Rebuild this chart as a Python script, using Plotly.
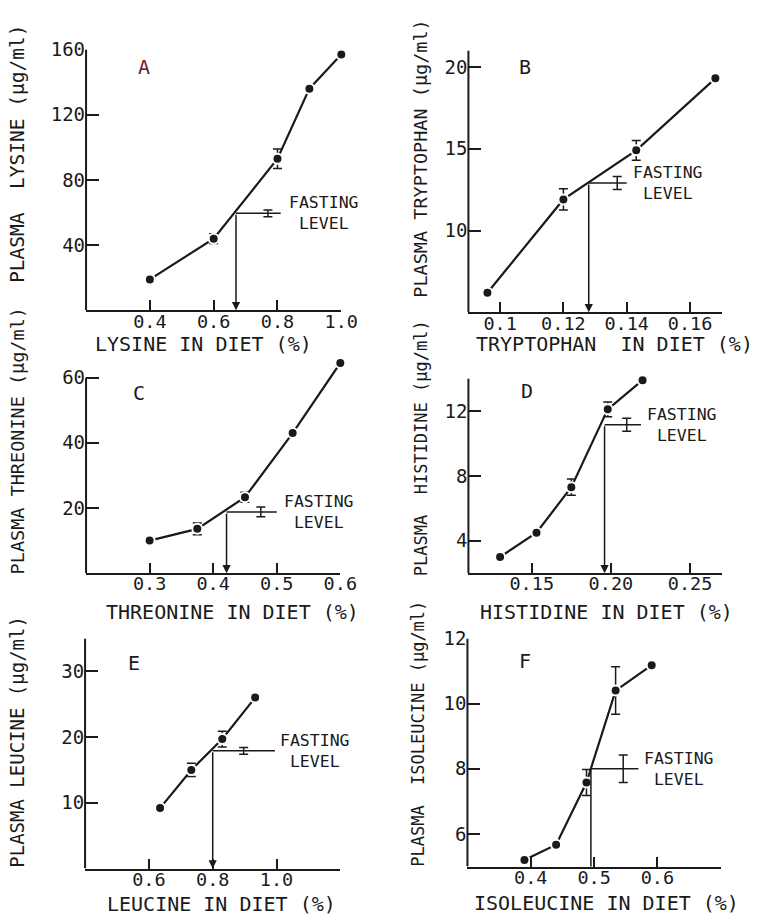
import plotly.graph_objects as go

W, H = 770, 918
INK = "#1a1a1a"
FONT = "DejaVu Sans Mono"

# ---------------- data ----------------
# A: lysine
lys_x = [0.4, 0.6, 0.8, 0.9, 1.0]
lys_y = [19, 44, 93, 136, 157]
lys_err = [None, 3, 6, None, None]
lys_fast = dict(x=0.67, y=59.5, end=0.81, errx=0.77, err=2)
lys_xticks = [0.4, 0.6, 0.8, 1.0]
lys_xlabels = ["0.4", "0.6", "0.8", "1.0"]
lys_yticks = [40, 80, 120, 160]

# B: tryptophan
trp_x = [0.096, 0.12, 0.143, 0.168]
trp_y = [6.2, 11.9, 14.9, 19.3]
trp_err = [None, 0.65, 0.6, None]
trp_fast = dict(x=0.128, y=12.9, end=0.14, errx=0.137, err=0.4)
trp_xticks = [0.10, 0.12, 0.14, 0.16]
trp_xlabels = ["0.1", "0.12", "0.14", "0.16"]
trp_yticks = [10, 15, 20]

# C: threonine
thr_x = [0.3, 0.375, 0.45, 0.525, 0.6]
thr_y = [10, 13.6, 23.3, 43, 64.5]
thr_err = [None, 1.8, 1.5, None, None]
thr_fast = dict(x=0.421, y=18.8, end=0.5, errx=0.475, err=1.5)
thr_xticks = [0.3, 0.4, 0.5, 0.6]
thr_xlabels = ["0.3", "0.4", "0.5", "0.6"]
thr_yticks = [20, 40, 60]

# D: histidine
his_x = [0.13, 0.153, 0.175, 0.198, 0.22]
his_y = [3.0, 4.5, 7.3, 12.1, 13.9]
his_err = [None, None, 0.5, 0.45, None]
his_fast = dict(x=0.196, y=11.15, end=0.219, errx=0.21, err=0.4)
his_xticks = [0.15, 0.20, 0.25]
his_xlabels = ["0.15", "0.20", "0.25"]
his_yticks = [4, 8, 12]

# E: leucine
leu_x = [0.635, 0.733, 0.83, 0.933]
leu_y = [9.2, 15, 19.7, 26]
leu_err = [None, 1.0, 1.2, None]
leu_fast = dict(x=0.8, y=17.9, end=0.995, errx=0.897, err=0.5)
leu_xticks = [0.6, 0.8, 1.0]
leu_xlabels = ["0.6", "0.8", "1.0"]
leu_yticks = [10, 20, 30]

# F: isoleucine
ile_x = [0.39, 0.44, 0.488, 0.534, 0.591]
ile_y = [5.2, 5.67, 7.58, 10.4, 11.18]
ile_err = [None, None, 0.4, 0.73, None]
ile_fast = dict(x=0.495, y=8.0, end=0.57, errx=0.546, err=0.42)
ile_xticks = [0.4, 0.5, 0.6]
ile_xlabels = ["0.4", "0.5", "0.6"]
ile_yticks = [6, 8, 10, 12]

NB = "\u00a0"
panels = [
    dict(tag="A", x=lys_x, y=lys_y, err=lys_err, fast=lys_fast, xt=lys_xticks, xl=lys_xlabels, yt=lys_yticks,
         xr=[0.2, 1.0], yr=[0, 160], ytop=160, dom_x=(88, 349), dom_y=(39, 303),
         ytitle="PLASMA" + NB * 2 + "LYSINE (μg/ml)", ytpos=(18, 145), ysize=19.5,
         xtitle="LYSINE IN DIET (%)", xtpos=(208, 337),
         tagpos=(147, 57), tagcolor="#6a2020", fastpos=(0.945, 59.5), head=2),
    dict(tag="B", x=trp_x, y=trp_y, err=trp_err, fast=trp_fast, xt=trp_xticks, xl=trp_xlabels, yt=trp_yticks,
         xr=[0.09, 0.17], yr=[5, 21], ytop=21, dom_x=(479, 738), dom_y=(40, 305),
         ytitle="PLASMA TRYPTOPHAN (μg/ml)", ytpos=(430, 150), ysize=18.5,
         xtitle="TRYPTOPHAN" + NB * 2 + "IN DIET (%)", xtpos=(628, 337),
         tagpos=(537, 57), tagcolor=INK, fastpos=(0.153, 12.9), head=2),
    dict(tag="C", x=thr_x, y=thr_y, err=thr_err, fast=thr_fast, xt=thr_xticks, xl=thr_xlabels, yt=thr_yticks,
         xr=[0.2, 0.6], yr=[0, 67], ytop=60, dom_x=(88, 348), dom_y=(348, 569),
         ytitle="PLASMA THREONINE (μg/ml)", ytpos=(18, 435), ysize=18.5,
         xtitle="THREONINE IN DIET (%)", xtpos=(238, 608),
         tagpos=(142, 387), tagcolor=INK, fastpos=(0.566, 18.8), head=2),
    dict(tag="D", x=his_x, y=his_y, err=his_err, fast=his_fast, xt=his_xticks, xl=his_xlabels, yt=his_yticks,
         xr=[0.11, 0.27], yr=[2, 14], ytop=14, dom_x=(479, 738), dom_y=(372, 569),
         ytitle="PLASMA" + NB * 2 + "HISTIDINE (μg/ml)", ytpos=(430, 443), ysize=17,
         xtitle="HISTIDINE IN DIET (%)", xtpos=(620, 608),
         tagpos=(539, 385), tagcolor=INK, fastpos=(0.245, 11.15), head=2),
    dict(tag="E", x=leu_x, y=leu_y, err=leu_err, fast=leu_fast, xt=leu_xticks, xl=leu_xlabels, yt=leu_yticks,
         xr=[0.4, 1.2], yr=[0, 35], ytop=35, dom_x=(87, 348), dom_y=(635, 868),
         ytitle="PLASMA LEUCINE (μg/ml)", ytpos=(18, 740), ysize=19,
         xtitle="LEUCINE IN DIET (%)", xtpos=(226, 904),
         tagpos=(137, 660), tagcolor=INK, fastpos=(1.121, 17.9), head=2),
    dict(tag="F", x=ile_x, y=ile_y, err=ile_err, fast=ile_fast, xt=ile_xticks, xl=ile_xlabels, yt=ile_yticks,
         xr=[0.3, 0.7], yr=[5, 12], ytop=12, dom_x=(478, 737), dom_y=(635, 866),
         ytitle="PLASMA" + NB * 2 + "ISOLEUCINE (μg/ml)", ytpos=(428, 732), ysize=17,
         xtitle="ISOLEUCINE IN DIET (%)", xtpos=(620, 903),
         tagpos=(537, 658), tagcolor=INK, fastpos=(0.634, 8.0), head=0),
]


def px(x):
    return x / W


def py(y):
    return 1 - y / H


fig = go.Figure()
annotations = []
shapes = []
layout = {}

for i, p in enumerate(panels, 1):
    xa = "x" if i == 1 else f"x{i}"
    ya = "y" if i == 1 else f"y{i}"
    xkey = "xaxis" if i == 1 else f"xaxis{i}"
    ykey = "yaxis" if i == 1 else f"yaxis{i}"
    f = p["fast"]

    # main curve
    fig.add_trace(go.Scatter(
        x=p["x"], y=p["y"], xaxis=xa, yaxis=ya, mode="lines+markers",
        line=dict(color=INK, width=2.2),
        marker=dict(size=10, color=INK, line=dict(color="white", width=2)),
        error_y=dict(type="data", array=p["err"], visible=True, color=INK, thickness=1.5, width=4.5),
        cliponaxis=False, showlegend=False, hoverinfo="skip"))

    # fasting level horizontal line
    fig.add_trace(go.Scatter(
        x=[f["x"], f["end"]], y=[f["y"], f["y"]], xaxis=xa, yaxis=ya, mode="lines",
        line=dict(color=INK, width=1.5), cliponaxis=False, showlegend=False, hoverinfo="skip"))

    # fasting level error bar
    fig.add_trace(go.Scatter(
        x=[f["errx"]], y=[f["y"]], xaxis=xa, yaxis=ya, mode="markers",
        marker=dict(size=1, color="rgba(0,0,0,0)"),
        error_y=dict(type="data", array=[f["err"]], visible=True, color=INK, thickness=1.5, width=4.5),
        cliponaxis=False, showlegend=False, hoverinfo="skip"))

    # arrow down to diet axis
    annotations.append(dict(
        x=f["x"], y=p["yr"][0], ax=f["x"], ay=f["y"], xref=xa, yref=ya, axref=xa, ayref=ya,
        text="", showarrow=True, arrowhead=p["head"], arrowsize=1.1, arrowwidth=1.5,
        arrowcolor=INK, standoff=0, startstandoff=0))

    # fasting text
    annotations.append(dict(
        x=p["fastpos"][0], y=p["fastpos"][1], xref=xa, yref=ya, text="FASTING<br>LEVEL",
        showarrow=False, align="center", xanchor="center", yanchor="middle",
        font=dict(family=FONT, size=16.5, color=INK)))

    # panel tag
    annotations.append(dict(
        x=px(p["tagpos"][0]), y=py(p["tagpos"][1]), xref="paper", yref="paper", text=p["tag"],
        showarrow=False, xanchor="center", yanchor="middle",
        font=dict(family=FONT, size=20, color=p["tagcolor"])))

    # y title
    annotations.append(dict(
        x=px(p["ytpos"][0]), y=py(p["ytpos"][1]), xref="paper", yref="paper", text=p["ytitle"],
        showarrow=False, textangle=-90, xanchor="center", yanchor="middle",
        font=dict(family=FONT, size=p["ysize"], color=INK)))

    # x title
    annotations.append(dict(
        x=px(p["xtpos"][0]), y=py(p["xtpos"][1]), xref="paper", yref="paper", text=p["xtitle"],
        showarrow=False, xanchor="center", yanchor="middle",
        font=dict(family=FONT, size=20, color=INK)))

    # y axis line (drawn only up to the top labelled value)
    shapes.append(dict(type="line", xref=f"{xa} domain", yref=ya, x0=0, x1=0,
                       y0=p["yr"][0], y1=p["ytop"], line=dict(color=INK, width=2), layer="above"))

    layout[xkey] = dict(
        domain=[px(p["dom_x"][0]), px(p["dom_x"][1])], range=p["xr"], anchor=ya,
        tickmode="array", tickvals=p["xt"], ticktext=p["xl"], ticks="inside", ticklen=10,
        tickwidth=2, tickcolor=INK, showline=True, linewidth=2, linecolor=INK,
        showgrid=False, zeroline=False, tickfont=dict(family=FONT, size=18.5, color=INK),
        ticklabelstandoff=-7, fixedrange=True)
    layout[ykey] = dict(
        domain=[py(p["dom_y"][1]), py(p["dom_y"][0])], range=p["yr"], anchor=xa,
        tickmode="array", tickvals=p["yt"], ticks="inside", ticklen=13,
        tickwidth=2, tickcolor=INK, showline=False,
        showgrid=False, zeroline=False, tickfont=dict(family=FONT, size=19, color=INK),
        fixedrange=True)

fig.update_layout(
    width=W, height=H, margin=dict(l=0, r=0, t=0, b=0),
    paper_bgcolor="white", plot_bgcolor="white",
    showlegend=False, annotations=annotations, shapes=shapes, **layout)

fig.write_html("out.html", config={"displayModeBar": False})
